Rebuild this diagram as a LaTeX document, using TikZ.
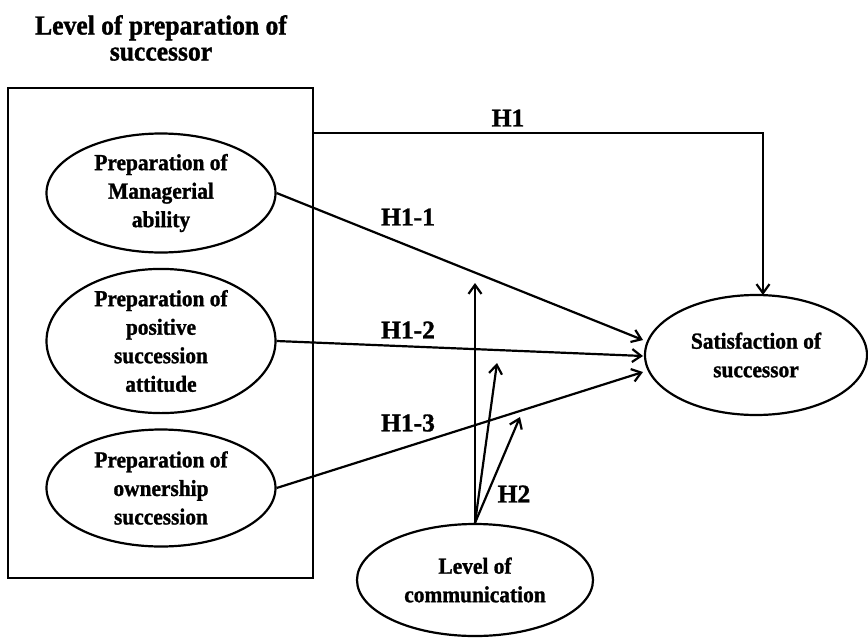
\documentclass[tikz,border=0pt]{standalone}
\usepackage{fontspec}
\setmainfont{Liberation Serif}
\newfontfamily\nb{Liberation Serif}[FakeStretch=0.93,BoldFeatures={FakeBold=1.2}]
\newfontfamily\wb{Liberation Serif}[BoldFeatures={FakeBold=1.2}]
\usetikzlibrary{shapes.geometric,arrows.meta}
\begin{document}
\begin{tikzpicture}[x=1pt,y=-1pt,
  oval/.style={draw,ellipse,line width=2.2pt,inner sep=0pt,align=center,
    font=\nb\fontsize{23}{28.5}\selectfont\bfseries},
  lbl/.style={font=\wb\fontsize{25.5}{28}\selectfont\bfseries,inner sep=0pt},
  conn/.style={line width=2.2pt,-{Straight Barb[length=9pt,width=13pt,line width=2.2pt]}},
  frame/.style={draw,line width=2.2pt,inner sep=0pt}]
\useasboundingbox (0,0) rectangle (868,638);
\fill[white] (0,0) rectangle (868,638);
\node[align=center,font=\nb\fontsize{27.5}{26}\selectfont\bfseries] (title) at (161,38)
  {Level of preparation of\\successor};
\node[frame,minimum width=305pt,minimum height=490pt] (box) at (160.5,333) {};
\node[oval,minimum width=229pt,minimum height=119pt] (e1) at (161,193)
  {Preparation of\\Managerial\\ability};
\node[oval,minimum width=229pt,minimum height=118pt] (e2) at (161,341)
  {Preparation of\\positive\\succession\\attitude};
\node[oval,minimum width=229pt,minimum height=117pt] (e3) at (161,488)
  {Preparation of\\ownership\\succession};
\node[oval,minimum width=222pt,minimum height=120pt] (s) at (756,355)
  {Satisfaction of\\successor};
\node[oval,minimum width=236pt,minimum height=112pt] (c) at (475,580)
  {Level of\\communication};
\coordinate (h1s) at (313,133);
\coordinate (h1e) at (763,295);
\coordinate (ta) at (643,340);
\coordinate (tb) at (643,356);
\coordinate (tc) at (643,372);
\coordinate (va) at (475,283);
\coordinate (vb) at (497,363);
\coordinate (vc) at (520,417);
\draw[conn] (h1s) -| (h1e);
\draw[conn] (e1.east) -- (ta);
\draw[conn] (e2.east) -- (tb);
\draw[conn] (e3.east) -- (tc);
\draw[conn] (c.north) -- (va);
\draw[conn] (c.north) -- (vb);
\draw[conn] (c.north) -- (vc);
\node[lbl] (l1) at (508,118) {H1};
\node[lbl] (l11) at (408,217) {H1-1};
\node[lbl] (l12) at (408,330) {H1-2};
\node[lbl] (l13) at (408,423) {H1-3};
\node[lbl] (l2) at (514,494) {H2};
\end{tikzpicture}
\end{document}
